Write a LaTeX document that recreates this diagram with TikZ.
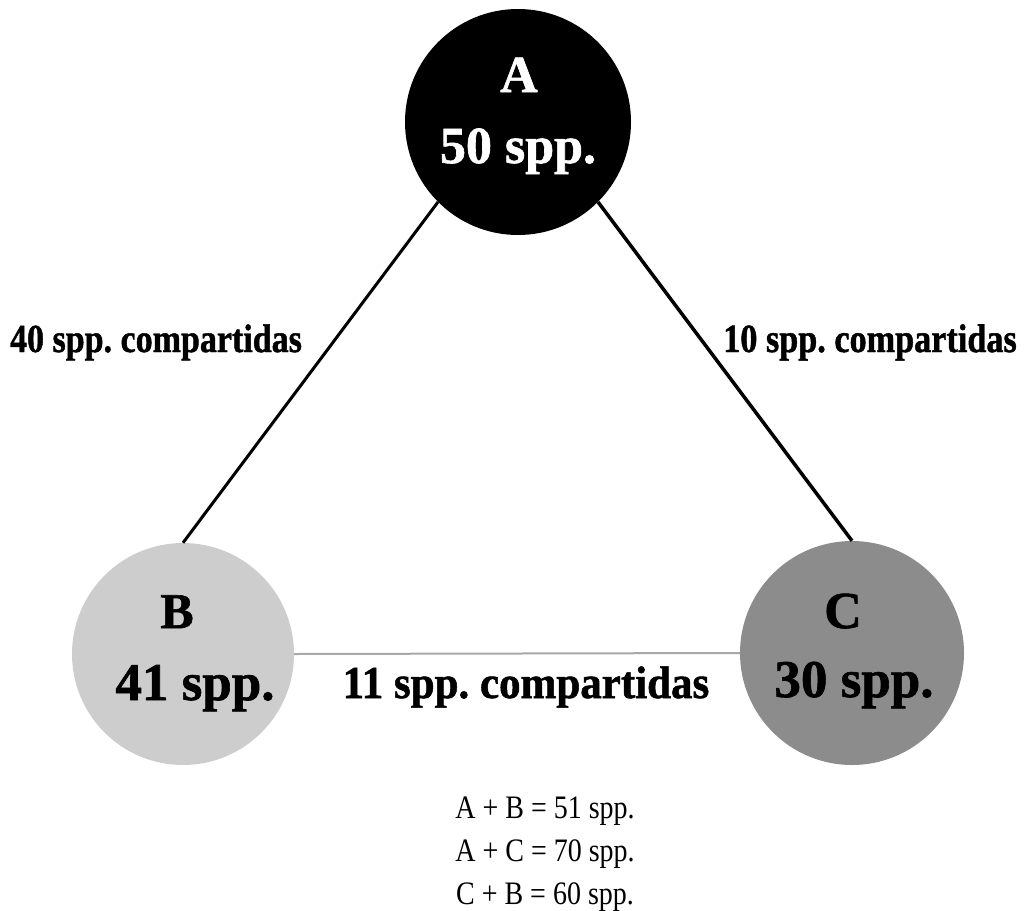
\documentclass[tikz,border=0pt]{standalone}
\usepackage{fontspec}
\setmainfont{Liberation Serif}[BoldFeatures={FakeBold=1.2}]
\usepackage{graphicx}
\definecolor{bfill}{HTML}{CDCDCD}
\definecolor{cfill}{HTML}{8C8C8C}
\definecolor{bcline}{HTML}{A8A8A8}
\newcommand{\fs}[1]{\fontsize{#1}{#1}\selectfont}
\begin{document}
\frenchspacing
\begin{tikzpicture}[x=1pt,y=-1pt,
  species/.style={circle, inner sep=0pt, minimum size=#1},
  big/.style={anchor=base, inner sep=0pt, font=\bfseries},
  edgelabel/.style={anchor=base, inner sep=0pt, font=\bfseries},
  sumline/.style={anchor=base, inner sep=0pt}]
\useasboundingbox (0,0) rectangle (1024,910);
% circles
\node[species=226pt, fill=black] (A) at (518,122) {};
\node[species=222pt, fill=bfill] (B) at (183,654) {};
\node[species=224pt, fill=cfill] (C) at (852,653) {};
% connectors
\draw[line width=3pt] (A.225) -- (B.north);
\draw[line width=3.5pt] (A.-45) -- (C.north);
\draw[line width=2pt, bcline] (B.east) -- (C.west);
% circle texts
\node[big, text=white] (At) at (519,92) {\fs{52}A};
\node[big, text=white] (An) at (518,163) {\fs{52}50 spp.};
\node[big] (Bt) at (177,628) {\fs{50}B};
\node[big] (Bn) at (195,700) {\fs{53}41 spp.};
\node[big] (Ct) at (843,628) {\fs{52}C};
\node[big] (Cn) at (854,697) {\fs{53}30 spp.};
% edge labels
\node[edgelabel] (lab) at (156,352) {\scalebox{1}[1.17]{\fs{34}40 spp. compartidas}};
\node[edgelabel] (lac) at (870,352) {\scalebox{1}[1.17]{\fs{34.2}10 spp. compartidas}};
\node[edgelabel] (lbc) at (526,698) {\scalebox{1}[1.06]{\fs{43}11 spp. compartidas}};
% sums
\node[sumline] (s1) at (545,818) {\scalebox{1}[1.17]{\fs{28}A + B = 51 spp.}};
\node[sumline] (s2) at (545,861) {\scalebox{1}[1.17]{\fs{28}A + C = 70 spp.}};
\node[sumline] (s3) at (545,904) {\scalebox{1}[1.17]{\fs{28}C + B = 60 spp.}};
\end{tikzpicture}
\end{document}
